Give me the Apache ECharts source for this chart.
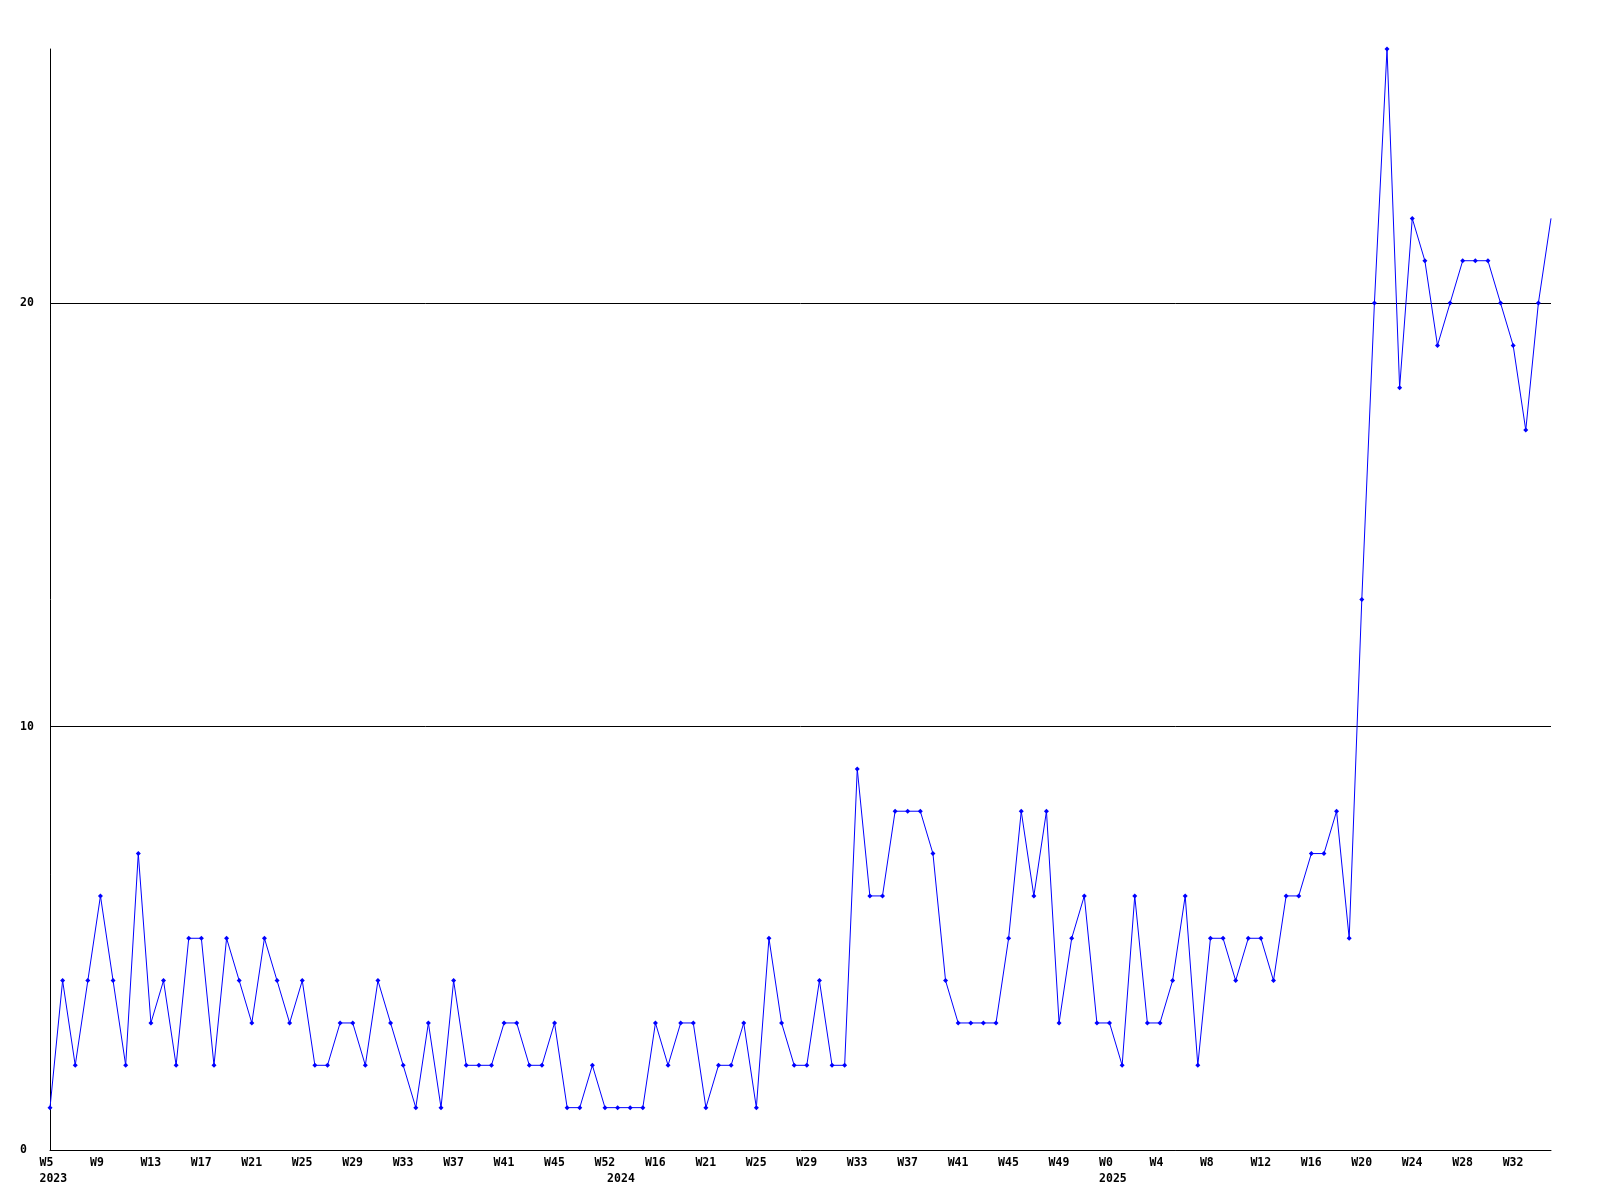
<!DOCTYPE html>
<html><head><meta charset="utf-8">
<script src="https://cdn.jsdelivr.net/npm/echarts@6/dist/echarts.min.js"></script>
<style>html,body{margin:0;padding:0;background:#fff}#c{width:1600px;height:1200px}</style>
</head><body><div id="c"></div>
<script>
const categories = [
 '2023-W5','2023-W6','2023-W7','2023-W8','2023-W9','2023-W10','2023-W11','2023-W12','2023-W13','2023-W14',
 '2023-W15','2023-W16','2023-W17','2023-W18','2023-W19','2023-W20','2023-W21','2023-W22','2023-W23','2023-W24',
 '2023-W25','2023-W26','2023-W27','2023-W28','2023-W29','2023-W30','2023-W31','2023-W32','2023-W33','2023-W34',
 '2023-W35','2023-W36','2023-W37','2023-W38','2023-W39','2023-W40','2023-W41','2023-W42','2023-W43','2023-W44',
 '2023-W45','2023-W46','2023-W47','2023-W48','2023-W52',
 '2024-W12','2024-W13','2024-W15','2024-W16','2024-W17','2024-W18','2024-W19','2024-W21','2024-W22','2024-W23',
 '2024-W24','2024-W25','2024-W26','2024-W27','2024-W28','2024-W29','2024-W30','2024-W31','2024-W32','2024-W33',
 '2024-W34','2024-W35','2024-W36','2024-W37','2024-W38','2024-W39','2024-W40','2024-W41','2024-W42','2024-W43',
 '2024-W44','2024-W45','2024-W46','2024-W47','2024-W48','2024-W49','2024-W50','2024-W51','2024-W52',
 '2025-W0','2025-W1','2025-W2','2025-W3','2025-W4','2025-W5','2025-W6','2025-W7','2025-W8','2025-W9',
 '2025-W10','2025-W11','2025-W12','2025-W13','2025-W14','2025-W15','2025-W16','2025-W17','2025-W18','2025-W19',
 '2025-W20','2025-W21','2025-W22','2025-W23','2025-W24','2025-W25','2025-W26','2025-W27','2025-W28','2025-W29',
 '2025-W30','2025-W31','2025-W32','2025-W33','2025-W34','2025-W35'
];
const values = [
 1,4,2,4,6,4,2,7,3,4, 2,5,5,2,5,4,3,5,4,3, 4,2,2,3,3,2,4,3,2,1,
 3,1,4,2,2,2,3,3,2,2, 3,1,1,2,1,1,1,1,3,2, 3,3,1,2,2,3,1,5,3,2, 2,4,
 2,2,9,6,6,8,8,8,7,4, 3,3,3,3,5,8,6,8,3,5, 6,3,3,2,6,3,3,4,6,2, 5,5,
 4,5,5,4,6,6,7,7,8,5, 13,20,26,18,22,21,19,20,21,21, 21,20,19,17,20,22
];
const yMax = 26;
const yStep = 10;
const labelEvery = 4;

const yearOf = c => c.split('-')[0];
const weekOf = c => c.split('-')[1];
const isYearStart = i => i === 0 || yearOf(categories[i]) !== yearOf(categories[i - 1]);

const FONT = '"DejaVu Sans Mono", "Liberation Mono", monospace';
const chart = echarts.init(document.getElementById('c'), null, {renderer: 'canvas'});
chart.setOption({
  animation: false,
  backgroundColor: '#fff',
  grid: [
    {left: 50, right: 49, top: 49, bottom: 50},
    {left: 39.5, right: 59.5, top: 49, bottom: 50}
  ],
  xAxis: [
    {type: 'category', gridIndex: 0, data: categories, boundaryGap: false,
     axisLine: {show: true, lineStyle: {color: '#000', width: 1}},
     axisTick: {show: false}, axisLabel: {show: false}, splitLine: {show: false}},
    {type: 'category', gridIndex: 1, data: categories, boundaryGap: false,
     axisLine: {show: false}, axisTick: {show: false}, splitLine: {show: false},
     axisLabel: {
       show: true, align: 'left', margin: 5,
       fontFamily: FONT, fontWeight: 'bold', fontSize: 11.5, color: '#000', lineHeight: 16,
       interval: (idx) => idx % labelEvery === 0 || isYearStart(idx),
       formatter: (val, idx) => {
         const w = idx % labelEvery === 0 ? weekOf(val) : '';
         const y = isYearStart(idx) ? yearOf(val) : '';
         return y ? w + '\n' + y : w;
       }
     }}
  ],
  yAxis: [
    {type: 'value', gridIndex: 0, min: 0, max: yMax, interval: yStep,
     axisLine: {show: true, lineStyle: {color: '#000', width: 1}},
     axisTick: {show: false},
     axisLabel: {show: true, align: 'left', margin: 30, showMaxLabel: false,
       fontFamily: FONT, fontWeight: 'bold', fontSize: 11.5, color: '#000'},
     splitLine: {show: true, showMinLine: false, showMaxLine: false, lineStyle: {color: '#000', width: 1}}},
    {type: 'value', gridIndex: 1, min: 0, max: yMax, show: false}
  ],
  series: [{
    type: 'line', xAxisIndex: 0, yAxisIndex: 0, data: values,
    showAllSymbol: true,
    symbol: (v, p) => (p.dataIndex === values.length - 1 ? 'none' : 'diamond'),
    symbolSize: 5,
    lineStyle: {color: '#0000ff', width: 1},
    itemStyle: {color: '#0000ff'},
    emphasis: {disabled: true}, silent: true
  }]
});
</script></body></html>
